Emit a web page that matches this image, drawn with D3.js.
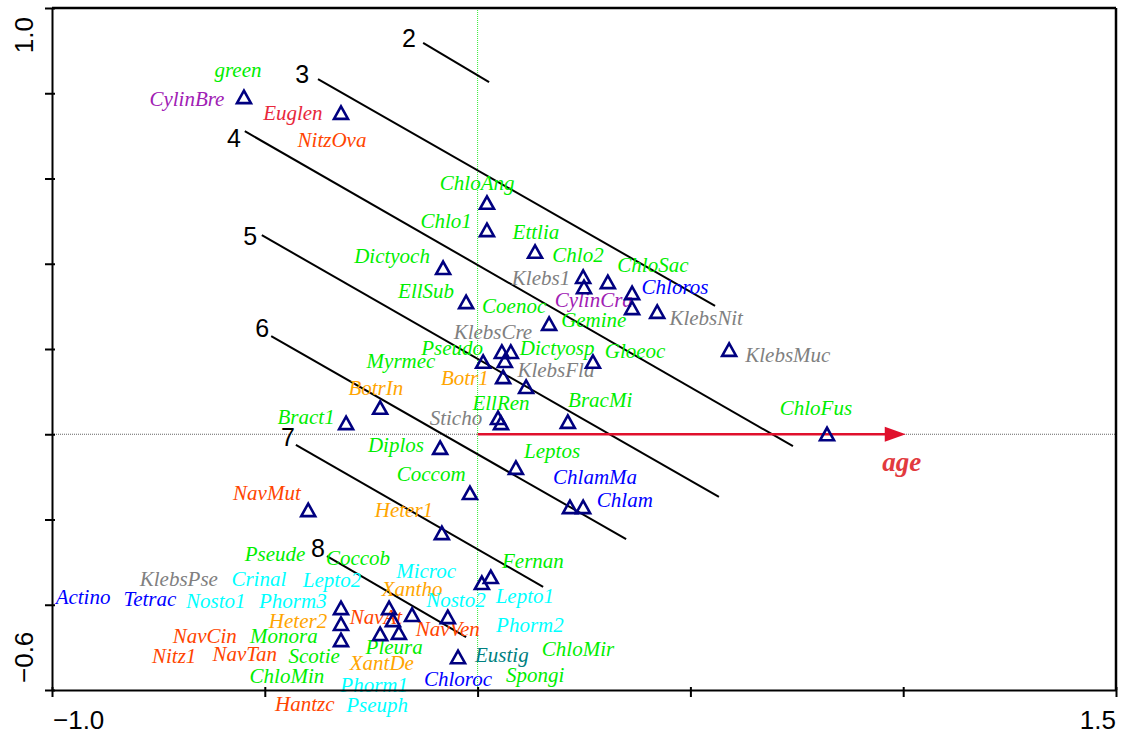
<!DOCTYPE html>
<html>
<head>
<meta charset="utf-8">
<script src="https://cdn.jsdelivr.net/npm/d3@7"></script>
<style>
  body { margin: 0; background: #fff; }
  svg { display: block; }
</style>
</head>
<body>
<svg></svg>
<script>
const width = 1122;
const height = 734;

// axis ticks
const xTicks = [-1.0, -0.5, 0, 0.5, 1.0, 1.5];
const yTicks = [-0.6, -0.4, -0.2, 0, 0.2, 0.4, 0.6, 0.8, 1.0];

// species scores (triangles)
const pointX = [-0.549, -0.321, 0.022, 0.022, 0.135, -0.081, 0.248, 0.250, 0.306, 0.363,
                0.363, 0.422, -0.027, 0.168, 0.591, 0.057, 0.078, 0.064, 0.013, 0.060,
                0.114, 0.271, 0.048, 0.055, 0.212, -0.088, 0.090, -0.229, -0.309, 0.821,
                -0.018, -0.084, 0.217, 0.248, -0.398, -0.321, -0.321, -0.321, -0.208, -0.199,
                -0.185, -0.229, -0.154, -0.070, -0.046, 0.010, 0.031];
const pointY = [0.791, 0.754, 0.543, 0.479, 0.428, 0.390, 0.369, 0.345, 0.357, 0.331,
                0.296, 0.287, 0.310, 0.259, 0.198, 0.193, 0.193, 0.172, 0.170, 0.134,
                0.111, 0.170, 0.038, 0.026, 0.029, -0.032, -0.079, 0.062, 0.026, 0.000,
                -0.138, -0.232, -0.171, -0.171, -0.178, -0.408, -0.445, -0.483, -0.408, -0.436,
                -0.466, -0.469, -0.424, -0.429, -0.523, -0.349, -0.335];

// species labels
const speciesNames = ["green", "CylinBre", "Euglen", "NitzOva", "ChloAng", "Chlo1", "Ettlia", "Chlo2",
  "ChloSac", "Dictyoch", "Klebs1", "Chloros", "CylinCra", "EllSub", "Coenoc", "KlebsNit", "Gemine",
  "KlebsCre", "KlebsMuc", "Pseudo", "Dictyosp", "Gloeoc", "Myrmec", "KlebsFla", "Botr1", "BotrIn",
  "EllRen", "BracMi", "ChloFus", "Bract1", "Sticho", "Diplos", "Leptos", "ChlamMa", "Coccom", "Chlam",
  "NavMut", "Heter1", "Pseude", "Coccob", "Fernan", "KlebsPse", "Crinal", "Lepto2", "Microc", "Xantho",
  "Actino", "Tetrac", "Nosto1", "Phorm3", "Nosto2", "Lepto1", "NavAt", "NavVen", "Heter2", "Phorm2",
  "NavCin", "Monora", "Pleura", "Eustig", "ChloMir", "Nitz1", "NavTan", "Scotie", "XantDe", "Spongi",
  "ChloMin", "Phorm1", "Chloroc", "Hantzc", "Pseuph"];
const speciesGroup = ["chl", "cyl", "eug", "bac", "chl", "chl", "chl", "chl",
  "chl", "chl", "kle", "chm", "cyl", "chl", "chl", "kle", "chl",
  "kle", "kle", "chl", "chl", "chl", "chl", "kle", "xan", "xan",
  "chl", "chl", "chl", "chl", "kle", "chl", "chl", "chm", "chl", "chm",
  "bac", "xan", "chl", "chl", "chl", "kle", "cya", "cya", "cya", "xan",
  "chm", "chm", "cya", "cya", "cya", "cya", "bac", "bac", "xan", "cya",
  "bac", "chl", "chl", "eus", "chl", "bac", "bac", "chl", "xan", "chl",
  "chl", "cya", "chm", "bac", "cya"];
const labelX = [-0.563, -0.683, -0.434, -0.342, -0.001, -0.074, 0.137, 0.236,
  0.412, -0.201, 0.149, 0.464, 0.273, -0.121, 0.086, 0.537, 0.273,
  0.036, 0.729, -0.060, 0.187, 0.370, -0.180, 0.184, -0.030, -0.239,
  0.055, 0.288, 0.795, -0.403, -0.051, -0.192, 0.175, 0.276, -0.109, 0.346,
  -0.495, -0.173, -0.476, -0.281, 0.130, -0.702, -0.514, -0.342, -0.121, -0.154,
  -0.927, -0.770, -0.615, -0.434, -0.051, 0.111, -0.239, -0.070, -0.422, 0.123,
  -0.641, -0.455, -0.196, 0.057, 0.236, -0.713, -0.547, -0.384, -0.225, 0.135,
  -0.448, -0.243, -0.046, -0.406, -0.236];
const labelY = [0.838, 0.770, 0.737, 0.674, 0.573, 0.484, 0.458, 0.404,
  0.381, 0.402, 0.350, 0.329, 0.299, 0.320, 0.284, 0.256, 0.252,
  0.223, 0.170, 0.186, 0.186, 0.179, 0.155, 0.134, 0.116, 0.092,
  0.057, 0.064, 0.045, 0.024, 0.022, -0.042, -0.056, -0.117, -0.110, -0.171,
  -0.154, -0.194, -0.297, -0.307, -0.314, -0.356, -0.356, -0.358, -0.337, -0.379,
  -0.398, -0.403, -0.408, -0.408, -0.405, -0.396, -0.445, -0.473, -0.455, -0.464,
  -0.490, -0.490, -0.516, -0.534, -0.520, -0.537, -0.532, -0.537, -0.553, -0.581,
  -0.584, -0.605, -0.591, -0.649, -0.652];

// age isolines
const isoValues = [2, 3, 4, 5, 6, 7, 8];
const isoX1 = [-0.128, -0.375, -0.547, -0.507, -0.485, -0.427, -0.354];
const isoY1 = [0.918, 0.833, 0.711, 0.467, 0.230, -0.025, -0.286];
const isoX2 = [0.027, 0.558, 0.741, 0.567, 0.349, 0.154, -0.027];
const isoY2 = [0.826, 0.301, -0.028, -0.147, -0.246, -0.358, -0.476];
const isoLabelX = [-0.145, -0.396, -0.556, -0.518, -0.490, -0.429, -0.359];
const isoLabelY = [0.909, 0.824, 0.674, 0.444, 0.228, -0.028, -0.288];

// environmental variable
const envName = "age";
const envX = 1.006;
const envY = 0;

const groupKeys = ["chl", "cyl", "eug", "bac", "xan", "kle", "chm", "cya", "eus"];
const groupColors = ["#00ee00", "#a020b4", "#e8283c", "#ff4500", "#ffa500", "#808080", "#0000ff", "#00ffff", "#008080"];

let xScale = d3.scaleLinear().domain([-1.0, 1.5]).range([52, 1116]);
let yScale = d3.scaleLinear().domain([-0.6, 1.0]).range([690, 8]);
let colorScale = d3.scaleOrdinal().domain(groupKeys).range(groupColors);

let svg = d3.select("svg")
    .attr("width", width)
    .attr("height", height)
    .style("font-family", "'Liberation Sans', Arial, sans-serif");

svg.append("rect")
    .attr("width", width)
    .attr("height", height)
    .attr("fill", "#fff");

// zero lines
svg.append("line")
    .attr("x1", xScale(-1.0)).attr("x2", xScale(1.5))
    .attr("y1", yScale(0)).attr("y2", yScale(0))
    .attr("stroke", "#666").attr("stroke-width", 1)
    .attr("stroke-dasharray", "1,1");
svg.append("line")
    .attr("x1", xScale(0)).attr("x2", xScale(0))
    .attr("y1", yScale(1.0)).attr("y2", yScale(-0.6))
    .attr("stroke", "#33ee33").attr("stroke-width", 1)
    .attr("stroke-dasharray", "1,1");

// isolines
let iso = d3.range(isoValues.length);
svg.selectAll("line.iso")
    .data(iso)
    .enter()
    .append("line")
        .attr("class", "iso")
        .attr("x1", i => xScale(isoX1[i]))
        .attr("y1", i => yScale(isoY1[i]))
        .attr("x2", i => xScale(isoX2[i]))
        .attr("y2", i => yScale(isoY2[i]))
        .attr("stroke", "#000")
        .attr("stroke-width", 2);
svg.selectAll("text.iso")
    .data(iso)
    .enter()
    .append("text")
        .attr("class", "iso")
        .attr("x", i => xScale(isoLabelX[i]))
        .attr("y", i => yScale(isoLabelY[i]))
        .attr("text-anchor", "end")
        .style("font-size", "25px")
        .text(i => isoValues[i]);

// age arrow
let tipX = xScale(envX), tipY = yScale(envY);
svg.append("line")
    .attr("x1", xScale(0)).attr("y1", yScale(0))
    .attr("x2", tipX - 18).attr("y2", tipY)
    .attr("stroke", "#e0102c").attr("stroke-width", 2.5);
svg.append("path")
    .attr("d", `M${tipX},${tipY}L${tipX - 21},${tipY - 7.5}L${tipX - 21},${tipY + 7.5}Z`)
    .attr("fill", "#e0102c");
svg.append("text")
    .attr("x", tipX - 4)
    .attr("y", tipY + 37)
    .attr("text-anchor", "middle")
    .style("font-family", "'Liberation Serif', 'Times New Roman', serif")
    .style("font-style", "italic")
    .style("font-weight", "bold")
    .style("font-size", "27px")
    .attr("fill", "#e23a3e")
    .text(envName);

// species labels
svg.selectAll("text.sp")
    .data(d3.range(speciesNames.length))
    .enter()
    .append("text")
        .attr("class", "sp")
        .attr("x", i => xScale(labelX[i]))
        .attr("y", i => yScale(labelY[i]))
        .attr("text-anchor", "middle")
        .attr("fill", i => colorScale(speciesGroup[i]))
        .style("font-family", "'Liberation Serif', 'Times New Roman', serif")
        .style("font-style", "italic")
        .style("font-size", "21px")
        .text(i => speciesNames[i]);

// species triangles
svg.selectAll("path.pt")
    .data(d3.range(pointX.length))
    .enter()
    .append("path")
        .attr("class", "pt")
        .attr("transform", i => `translate(${xScale(pointX[i])},${yScale(pointY[i])})`)
        .attr("d", "M0,-6.5L7,6L-7,6Z")
        .attr("fill", "none")
        .attr("stroke", "#000080")
        .attr("stroke-width", 2.6);

// axes
let xAxis = d3.axisBottom(xScale)
    .tickValues(xTicks)
    .tickFormat("")
    .tickSize(7)
    .tickSizeOuter(0);
let yAxis = d3.axisLeft(yScale)
    .tickValues(yTicks)
    .tickFormat("")
    .tickSize(7)
    .tickSizeOuter(0);

let gx = svg.append("g")
    .attr("transform", `translate(0, ${yScale(-0.6)})`)
    .call(xAxis);
gx.selectAll("line").attr("y1", -3).attr("stroke-width", 2);
gx.select(".domain").attr("stroke-width", 2);

let gy = svg.append("g")
    .attr("transform", `translate(${xScale(-1.0)}, 0)`)
    .call(yAxis);
gy.selectAll("line").attr("x1", 3).attr("stroke-width", 2);
gy.select(".domain").attr("stroke-width", 2);

// frame top and right
svg.append("line")
    .attr("x1", xScale(-1.0)).attr("x2", xScale(1.5))
    .attr("y1", yScale(1.0)).attr("y2", yScale(1.0))
    .attr("stroke", "#000").attr("stroke-width", 2.5);
svg.append("line")
    .attr("x1", xScale(1.5)).attr("x2", xScale(1.5))
    .attr("y1", yScale(1.0)).attr("y2", yScale(-0.6))
    .attr("stroke", "#000").attr("stroke-width", 2.5);

// axis end labels
svg.append("text")
    .attr("x", xScale(-1.0) + 1)
    .attr("y", 729)
    .style("font-size", "26px")
    .text(d3.format(".1f")(xTicks[0]));
svg.append("text")
    .attr("x", xScale(1.5))
    .attr("y", 729)
    .attr("text-anchor", "end")
    .style("font-size", "26px")
    .text(d3.format(".1f")(xTicks[xTicks.length - 1]));
svg.append("text")
    .attr("transform", `translate(33, ${yScale(1.0) + 9}) rotate(-90)`)
    .attr("text-anchor", "end")
    .style("font-size", "26px")
    .text(d3.format(".1f")(yTicks[yTicks.length - 1]));
svg.append("text")
    .attr("transform", `translate(33, ${yScale(-0.6) - 7}) rotate(-90)`)
    .attr("text-anchor", "start")
    .style("font-size", "26px")
    .text(d3.format(".1f")(yTicks[0]));
</script>
</body>
</html>
